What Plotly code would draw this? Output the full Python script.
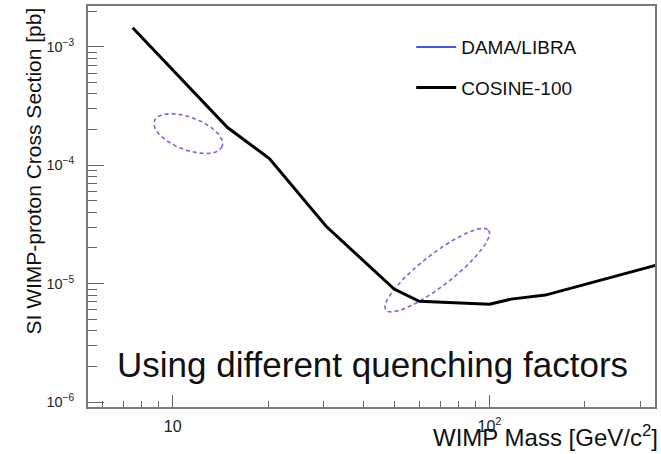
import numpy as np
import plotly.graph_objects as go

# COSINE-100 90% CL exclusion limit (SI WIMP-proton)
cosine_mass = [7.48, 14.9, 20.2, 30.5, 50.0, 60.0, 100.0, 117.0, 150.0, 335.0]
cosine_xsec = [1.45e-3, 2.08e-4, 1.14e-4, 3.05e-5, 9.0e-6, 7.1e-6, 6.7e-6, 7.4e-6, 8.0e-6, 1.43e-5]

# DAMA/LIBRA allowed regions: centre (mass, xsec) and two conjugate half-axes in decades (dlogm, dlogsigma)
dama_centers = [(11.2, 1.85e-4), (68.4, 1.30e-5)]
dama_axis_u = [(0.1069, -0.1076), (0.1622, 0.3372)]
dama_axis_v = [(-0.0182, -0.1293), (0.0308, -0.1065)]

# axis ticks
x_tickvals = [10, 100]
x_ticktext = ["10", "10<sup>2</sup>"]
x_minor = [6, 7, 8, 9, 20, 30, 40, 50, 60, 70, 80, 90, 200, 300]
y_tickvals = [1e-6, 1e-5, 1e-4, 1e-3]
y_ticktext = ["10<sup>−6</sup>", "10<sup>−5</sup>", "10<sup>−4</sup>", "10<sup>−3</sup>"]
y_minor = [m * 10.0 ** e for e in (-6, -5, -4, -3) for m in range(2, 10)]

DAMA_COLOR = "#6a6ae6"
FONT = "Liberation Sans, Arial, sans-serif"

fig = go.Figure()

t = np.linspace(0, 2 * np.pi, 200)
for (cm, cs), (ux, uy), (vx, vy) in zip(dama_centers, dama_axis_u, dama_axis_v):
    lx = np.log10(cm) + ux * np.cos(t) + vx * np.sin(t)
    ly = np.log10(cs) + uy * np.cos(t) + vy * np.sin(t)
    fig.add_trace(go.Scatter(
        x=10 ** lx, y=10 ** ly, mode="lines",
        line=dict(color=DAMA_COLOR, width=1.6, dash="4px,3px"),
        legendgroup="dama", showlegend=False, hoverinfo="skip",
    ))

# legend entry for DAMA/LIBRA shown as a solid line
fig.add_trace(go.Scatter(
    x=[None], y=[None], mode="lines", name="DAMA/LIBRA",
    line=dict(color="#4458e6", width=2), legendgroup="dama",
))

fig.add_trace(go.Scatter(
    x=cosine_mass, y=cosine_xsec, mode="lines", name="COSINE-100",
    line=dict(color="black", width=3), legendgroup="cosine",
))

axis_common = dict(
    showgrid=False, zeroline=False, showline=True, mirror=True,
    linecolor="#7a7a7a", linewidth=2,
    ticks="inside", tickcolor="#666", tickwidth=1.3,
)

fig.update_xaxes(
    type="log", range=[0.733, 2.522],
    tickmode="array", tickvals=x_tickvals, ticktext=x_ticktext,
    ticklen=12, ticklabelstandoff=4,
    tickfont=dict(family=FONT, color="#222", size=16),
    minor=dict(tickmode="array", tickvals=x_minor, ticks="inside", ticklen=6,
               tickcolor="#666", tickwidth=1.2, showgrid=False),
    **axis_common,
)

fig.update_yaxes(
    type="log", range=[-6.042, -2.655],
    tickmode="array", tickvals=y_tickvals, ticktext=y_ticktext,
    ticklen=16, ticklabelstandoff=9,
    tickfont=dict(family=FONT, color="#222", size=14.5),
    minor=dict(tickmode="array", tickvals=y_minor, ticks="inside", ticklen=9,
               tickcolor="#666", tickwidth=1.2, showgrid=False),
    **axis_common,
)

fig.add_annotation(
    text="SI WIMP-proton Cross Section [pb]", textangle=-90,
    xref="paper", yref="paper", x=-0.097, y=1.0, xanchor="center", yanchor="top",
    showarrow=False, font=dict(family=FONT, size=21, color="#111"),
)
fig.add_annotation(
    text="WIMP Mass [GeV/c<sup>2</sup>]",
    xref="paper", yref="paper", x=1.008, y=-0.072, xanchor="right", yanchor="middle",
    showarrow=False, font=dict(family=FONT, size=24, color="#111"),
)
fig.add_annotation(
    text="Using different quenching factors",
    xref="paper", yref="paper", x=0.502, y=0.107, xanchor="center", yanchor="middle",
    showarrow=False, font=dict(family=FONT, size=35, color="#111"),
)

fig.update_layout(
    width=661, height=454,
    margin=dict(l=88, r=4, t=5, b=47),
    paper_bgcolor="white", plot_bgcolor="white",
    showlegend=True,
    legend=dict(
        x=0.57, y=0.945, xanchor="left", yanchor="top",
        bgcolor="rgba(0,0,0,0)", borderwidth=0,
        font=dict(family=FONT, size=19, color="#111"),
        traceorder="grouped", tracegroupgap=13, itemwidth=40,
    ),
)

fig.write_html("out.html")
